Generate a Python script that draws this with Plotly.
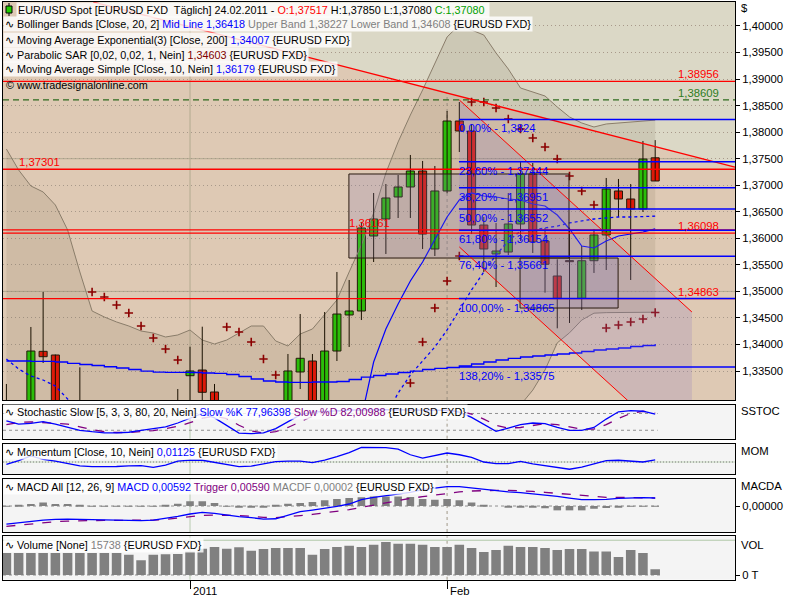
import plotly.graph_objects as go

# ---------------- data ----------------
bars = list(range(54))  # 13.12.2010 ... 24.02.2011 (trading days)
opens = [1.3240, 1.3282, 1.3265, 1.33871, 1.33802, 1.3245, 1.3230, 1.3210, 1.3190, 1.3130,
         1.3145, 1.3090, 1.3115, 1.3120, 1.3150, 1.33412, 1.33519, 1.33105, 1.3150, 1.3000,
         1.2910, 1.2950, 1.2970, 1.3110, 1.33482, 1.33689, 1.3260, 1.33877, 1.34556, 1.34631,
         1.36044, 1.36364, 1.36779, 1.36967, 1.37268, 1.35799, 1.36892, 1.38210, 1.38022, 1.36251,
         1.35705, 1.35742, 1.36270, 1.37212, 1.35950, 1.35290, 1.35580, 1.34870, 1.35578, 1.36063,
         1.36892, 1.36741, 1.36553, 1.37517]
highs = [1.33256, 1.3292, 1.3433, 1.34989, 1.3381, 1.3280, 1.3357, 1.3250, 1.3230, 1.3180,
         1.3160, 1.3140, 1.3150, 1.3180, 1.33161, 1.33958, 1.34335, 1.33256, 1.3170, 1.3030,
         1.2970, 1.2990, 1.3130, 1.33821, 1.34574, 1.33821, 1.34612, 1.35366, 1.35215, 1.36308,
         1.36854, 1.37023, 1.37193, 1.37570, 1.37457, 1.37363, 1.38399, 1.38568, 1.38154, 1.36402,
         1.36289, 1.36854, 1.37457, 1.37419, 1.36195, 1.35604, 1.36200, 1.35855, 1.36176, 1.37137,
         1.37118, 1.37023, 1.37834, 1.37850]
lows = [1.3225, 1.3230, 1.3255, 1.33651, 1.3235, 1.3200, 1.3180, 1.3170, 1.3120, 1.3100,
        1.3070, 1.3060, 1.3100, 1.3100, 1.3130, 1.3270, 1.3290, 1.3130, 1.2990, 1.2880,
        1.2880, 1.2920, 1.2960, 1.3100, 1.33161, 1.3240, 1.3240, 1.33689, 1.33953, 1.34461,
        1.35554, 1.35705, 1.36383, 1.36383, 1.35799, 1.35667, 1.36850, 1.37626, 1.36081, 1.35366,
        1.35083, 1.35686, 1.35950, 1.35724, 1.34976, 1.34305, 1.34405, 1.34650, 1.35347, 1.35403,
        1.36402, 1.35215, 1.36496, 1.37080]
closes = [1.3285, 1.3262, 1.33877, 1.3377, 1.3245, 1.3230, 1.3210, 1.3190, 1.3130, 1.3145,
          1.3090, 1.3115, 1.3120, 1.3150, 1.3285, 1.33501, 1.33099, 1.3150, 1.3000, 1.2910,
          1.2950, 1.2970, 1.3110, 1.33501, 1.33740, 1.3250, 1.33877, 1.34574, 1.34631, 1.36195,
          1.36364, 1.36760, 1.36967, 1.37268, 1.36081, 1.36892, 1.38210, 1.38022, 1.36251, 1.35799,
          1.35761, 1.36270, 1.37212, 1.35936, 1.35511, 1.34870, 1.35560, 1.35578, 1.36063, 1.36929,
          1.36741, 1.36553, 1.37494, 1.37080]

bb_upper = [1.37683, 1.37287, 1.36986, 1.36873, 1.36628, 1.36157, 1.35366, 1.34631, 1.34518, 1.34424,
            1.34348, 1.34254, 1.34216, 1.34141, 1.34179, 1.34273, 1.34084, 1.34009, 1.34084, 1.34216,
            1.34348, 1.34348, 1.34066, 1.33972, 1.34197, 1.34292, 1.34574, 1.34838, 1.35366, 1.35874,
            1.36477, 1.37231, 1.37815, 1.38323, 1.38794, 1.39303, 1.39793, 1.40019, 1.39925, 1.39830,
            1.39491, 1.39190, 1.38832, 1.38757, 1.38681, 1.38474, 1.38286, 1.38173, 1.38097, 1.38154,
            1.38173, 1.38191, 1.38210, 1.38227]
bb_mid = [1.33726, 1.33538, 1.33406, 1.33331, 1.33218, 1.32973, 1.3285, 1.3270, 1.3255, 1.3240,
          1.3225, 1.3210, 1.3200, 1.3190, 1.3185, 1.3185, 1.3180, 1.3175, 1.3165, 1.3155,
          1.3145, 1.3140, 1.3135, 1.3135, 1.3140, 1.3140, 1.3150, 1.3160, 1.3180, 1.3205,
          1.3230, 1.3265, 1.33086, 1.33425, 1.33689, 1.33953, 1.34273, 1.34650, 1.35027, 1.35366,
          1.35686, 1.35950, 1.36138, 1.36157, 1.36195, 1.36232, 1.36289, 1.36326, 1.36364, 1.36383,
          1.36402, 1.36402, 1.36411, 1.36418]
bb_lower = [1.2977, 1.2979, 1.2983, 1.2979, 1.2981, 1.2979, 1.3033, 1.3077, 1.3058, 1.3038,
            1.3015, 1.2995, 1.2978, 1.2966, 1.2952, 1.2943, 1.2952, 1.2949, 1.2922, 1.2888,
            1.2855, 1.2845, 1.2863, 1.2873, 1.2860, 1.2851, 1.2843, 1.2820, 1.2816, 1.2819,
            1.2810, 1.2807, 1.2836, 1.2849, 1.2859, 1.2855, 1.2875, 1.2928, 1.3013, 1.3090,
            1.3188, 1.3271, 1.3286, 1.3314, 1.3352, 1.3403, 1.3422, 1.3446, 1.3459, 1.3460,
            1.3460, 1.34605, 1.34607, 1.34608]
ema200 = [1.33689, 1.33689, 1.33680, 1.33680, 1.33670, 1.33645, 1.33623, 1.33604, 1.33581, 1.33557,
          1.33529, 1.33500, 1.33481, 1.33476, 1.33476, 1.33472, 1.33463, 1.33454, 1.33435, 1.33397,
          1.33350, 1.33312, 1.33293, 1.33288, 1.33288, 1.33293, 1.33293, 1.33303, 1.33340, 1.33387,
          1.33416, 1.33444, 1.33472, 1.33500, 1.33529, 1.33551, 1.33566, 1.33595, 1.33632, 1.33670,
          1.33708, 1.33740, 1.33764, 1.33783, 1.33802, 1.33821, 1.33840, 1.33868, 1.33896, 1.33915,
          1.33934, 1.33962, 1.33981, 1.34007]
sma10 = [None] * 28 + [1.3225, 1.3262, 1.3367, 1.34292, 1.34763, 1.35196, 1.35554, 1.35968, 1.36402, 1.36722,
                       1.36854, 1.36797, 1.36778, 1.36741, 1.36722, 1.36647, 1.36609, 1.36439, 1.36176, 1.35855,
                       1.35818, 1.35950, 1.36044, 1.36081, 1.36119, 1.36179]
sar = ([None] * 7 + [1.34989, 1.34895, 1.34744, 1.34593, 1.34348, 1.34122, 1.33915, 1.33708]
       + [None] * 3 + [1.34330, 1.34235, 1.34047, 1.33727, 1.33425] + [None] * 10
       + [1.33274, 1.34047, 1.34687, 1.35196, 1.35667, 1.38568, 1.38568, 1.38455, 1.38248, 1.38060,
          1.37890, 1.37720, 1.37494, 1.37174, 1.36892, 1.36628, 1.34311, 1.34367, 1.34424, 1.34480, 1.34603])

stoch_k = [54, 42, 45, 51, 42, 31, 20, 15, 11, 11, 13, 20, 25, 32, 46, 64, 80, 64, 37, 10,
           8, 11, 26, 52, 75, 85, 88, 90, 92, 93, 94, 94, 93, 92, 90, 91, 92, 85, 66, 40,
           16, 28, 40, 46, 44, 30, 20, 20, 30, 60, 86, 90, 88, 77.96398]
stoch_d = [40, 48, 50, 47, 46, 42, 32, 22, 15, 12, 12, 15, 19, 26, 34, 47, 63, 70, 62, 38,
           18, 10, 15, 30, 50, 70, 83, 88, 90, 92, 93, 94, 94, 93, 92, 91, 91, 89, 78, 60,
           38, 28, 30, 38, 44, 40, 31, 24, 24, 40, 62, 80, 88, 82.00988]
momentum = [-0.012, 0.007, 0.031, 0.014, 0.004, -0.007, -0.020, -0.024, -0.024, -0.023,
            -0.020, -0.019, -0.027, -0.016, 0.005, 0.010, 0.009, -0.003, -0.014, -0.024,
            -0.021, -0.009, 0.002, 0.004, 0.005, -0.003, 0.010, 0.027, 0.048, 0.075,
            0.075, 0.073, 0.066, 0.037, 0.020, 0.034, 0.046, 0.037, 0.024, 0.000,
            -0.008, -0.008, 0.003, -0.010, -0.019, -0.027, -0.037, -0.026, -0.009, 0.007,
            0.009, 0.003, 0.000, 0.01125]
macd = [-0.0133, -0.0123, -0.0113, -0.0104, -0.0099, -0.0096, -0.0099, -0.0101, -0.0104, -0.0106,
        -0.0108, -0.0108, -0.0104, -0.0091, -0.0076, -0.0059, -0.0047, -0.0054, -0.0069, -0.0079,
        -0.0086, -0.0096, -0.0094, -0.0069, -0.0042, -0.0030, -0.0017, -0.0002, 0.0015, 0.0047,
        0.0064, 0.0076, 0.0084, 0.0101, 0.0121, 0.0133, 0.0143, 0.0143, 0.0133, 0.0123,
        0.0113, 0.0104, 0.0099, 0.0091, 0.0084, 0.0072, 0.0059, 0.0047, 0.0047, 0.0049,
        0.0057, 0.0062, 0.0062, 0.00592]
trigger = [-0.0150, -0.0141, -0.0133, -0.0123, -0.0116, -0.0111, -0.0108, -0.0106, -0.0106, -0.0106,
           -0.0106, -0.0106, -0.0104, -0.0099, -0.0089, -0.0079, -0.0069, -0.0067, -0.0067, -0.0071,
           -0.0076, -0.0084, -0.0086, -0.0081, -0.0071, -0.0062, -0.0052, -0.0039, -0.0027, -0.0010,
           0.0007, 0.0025, 0.0039, 0.0057, 0.0069, 0.0081, 0.0094, 0.0104, 0.0111, 0.0116,
           0.0116, 0.0116, 0.0113, 0.0108, 0.0101, 0.0094, 0.0084, 0.0076, 0.0069, 0.0064,
           0.0064, 0.0064, 0.0064, 0.00590]
macdf = [0.0002, 0.0005, 0.0015, 0.0027, 0.0015, 0.0015, 0.0010, 0.0002, -0.0002, -0.0002,
         -0.0002, 0.0002, -0.0002, 0.0010, 0.0017, 0.0035, 0.0035, 0.0022, 0.0002, -0.0007,
         -0.0010, -0.0010, 0.0005, 0.0017, 0.0022, 0.0030, 0.0042, 0.0052, 0.0059, 0.0064,
         0.0071, 0.0071, 0.0071, 0.0067, 0.0052, 0.0047, 0.0052, 0.0042, 0.0027, 0.0010,
         0.0000, -0.0007, -0.0005, -0.0007, -0.0017, -0.0032, -0.0032, -0.0032, -0.0020, -0.0015,
         -0.0007, -0.0002, -0.0002, 0.00002]
volume = [61000, 61000, 60500, 61000, 60800, 61000, 60700, 61000, 60600, 61000,
          56000, 40500, 56000, 57500, 58000, 65000, 72500, 77000, 72500, 76500,
          67000, 71800, 74500, 74500, 74500, 56000, 71800, 77000, 81000, 77000,
          83500, 91000, 86500, 86500, 83500, 77000, 77000, 83500, 74500, 63500,
          69000, 81000, 77000, 77000, 74500, 69000, 71800, 71800, 65000, 65000,
          49700, 69000, 60700, 15738]

price_ticks = [1.335, 1.340, 1.345, 1.350, 1.355, 1.360, 1.365, 1.370, 1.375, 1.380, 1.385, 1.390, 1.395, 1.400]
price_tick_text = ["1,33500", "1,34000", "1,34500", "1,35000", "1,35500", "1,36000", "1,36500",
                   "1,37000", "1,37500", "1,38000", "1,38500", "1,39000", "1,39500", "1,40000"]
major_levels = [1.350, 1.375, 1.400]
date_ticks = [15, 36]
date_labels = ["2011", "Feb"]

fib_values = [1.3824, 1.37444, 1.36951, 1.36552, 1.36154, 1.35661, 1.34865, 1.33575]
fib_labels = ["0,00% - 1,3824", "23,60% - 1,37444", "38,20% - 1,36951", "50,00% - 1,36552",
              "61,80% - 1,36154", "76,40% - 1,35661", "100,00% - 1,34865", "138,20% - 1,33575"]
fib_start = 36.97
red_levels = [1.38956, 1.37301, 1.36161, 1.36098, 1.34863]
red_labels = ["1,38956", "1,37301", "1,36161", "1,36098", "1,34863"]
red_label_pos = ["right", "left", "mid", "right", "right"]
green_level = 1.38609
green_label = "1,38609"
trend_x = [7.1, 59.52]
trend_y = [1.40452, 1.37340]
chan_x = [37.0, 56.0]
chan_upper = [1.38606, 1.34612]
chan_lower = [1.35837, 1.31843]
box1 = dict(x=[27.98, 45.96], y=[1.35629, 1.37212])
box2 = dict(x=[41.96, 49.97], y=[1.34687, 1.35629])

# ---------------- layout helpers ----------------
XR = [-0.278, 59.52]
PY = [1.32954, 1.40452]
FONT = "Liberation Sans, Arial, sans-serif"
FS = 10.8

def px(x):
    return (x - 3) / 732.0

def py(y):
    return (580 - y) / 578.0

fig = go.Figure()

# Bollinger band fill
fig.add_trace(go.Scatter(x=bars, y=bb_lower, mode="lines", line=dict(color="#8a7d6a", width=1),
                         xaxis="x", yaxis="y", hoverinfo="skip"))
fig.add_trace(go.Scatter(x=bars, y=bb_upper, mode="lines", line=dict(color="#8a7d6a", width=1),
                         fill="tonexty", fillcolor="rgba(110,92,70,0.13)", xaxis="x", yaxis="y"))

# candles
wx, wy = [], []
for i in bars:
    wx += [i, i, None]
    wy += [lows[i], highs[i], None]
fig.add_trace(go.Scatter(x=wx, y=wy, mode="lines", line=dict(color="#1a1000", width=1),
                         xaxis="x", yaxis="y"))
up = [i for i in bars if closes[i] >= opens[i]]
dn = [i for i in bars if closes[i] < opens[i]]
for sel, col in ((up, "#22cc00"), (dn, "#ee1100")):
    fig.add_trace(go.Bar(x=sel, base=[min(opens[i], closes[i]) for i in sel],
                         y=[max(abs(closes[i] - opens[i]), 0.00008) for i in sel],
                         width=0.66, marker=dict(color=col, line=dict(color="#1a1000", width=1)),
                         xaxis="x", yaxis="y"))

fig.add_trace(go.Scatter(x=bars, y=bb_mid, mode="lines", line=dict(color="#0000ff", width=1.3, dash="dot"),
                         xaxis="x", yaxis="y"))
fig.add_trace(go.Scatter(x=bars, y=ema200, mode="lines", line=dict(color="#0000ff", width=1.3, shape="hv"),
                         xaxis="x", yaxis="y"))
fig.add_trace(go.Scatter(x=bars, y=sma10, mode="lines", line=dict(color="#0000ff", width=1.2),
                         xaxis="x", yaxis="y"))
fig.add_trace(go.Scatter(x=bars, y=sar, mode="markers",
                         marker=dict(symbol="cross-thin", size=6, line=dict(color="#8b0000", width=1.6)),
                         xaxis="x", yaxis="y"))

# Stochastic
fig.add_trace(go.Scatter(x=bars, y=stoch_d, mode="lines", line=dict(color="#800080", width=1.3, dash="dash"),
                         xaxis="x2", yaxis="y2"))
fig.add_trace(go.Scatter(x=bars, y=stoch_k, mode="lines", line=dict(color="#0000ff", width=1.3),
                         xaxis="x2", yaxis="y2"))
# Momentum
fig.add_trace(go.Scatter(x=bars, y=momentum, mode="lines", line=dict(color="#0000ff", width=1.3),
                         xaxis="x3", yaxis="y3"))
# MACD
fig.add_trace(go.Bar(x=bars, y=macdf, width=0.62, marker=dict(color="#808080", line=dict(width=0)),
                     xaxis="x4", yaxis="y4"))
fig.add_trace(go.Scatter(x=bars, y=trigger, mode="lines", line=dict(color="#800080", width=1.3, dash="dash"),
                         xaxis="x4", yaxis="y4"))
fig.add_trace(go.Scatter(x=bars, y=macd, mode="lines", line=dict(color="#0000ff", width=1.3),
                         xaxis="x4", yaxis="y4"))
# Volume
fig.add_trace(go.Bar(x=bars, y=volume, width=0.78, marker=dict(color="#808080", line=dict(width=0)),
                     xaxis="x5", yaxis="y5"))

# ---------------- shapes ----------------
shapes = []
shapes.append(dict(type="rect", xref="paper", yref="y domain", x0=0, x1=1, y0=0, y1=1,
                   fillcolor="#dec9b4", line=dict(width=0), layer="below"))
shapes.append(dict(type="path", xref="x", yref="y",
                   path=f"M {trend_x[0]},{trend_y[0]} L {trend_x[1]},{trend_y[1]} L {trend_x[1]},{PY[1]} L {trend_x[0]},{PY[1]} Z",
                   fillcolor="#dbd8c6", line=dict(width=0), layer="below"))
for lv in major_levels:
    shapes.append(dict(type="line", xref="paper", yref="y", x0=0, x1=1, y0=lv, y1=lv,
                       line=dict(color="#b2ab90", width=1), layer="below"))
for ax in ["y", "y2", "y3", "y4", "y5"]:
    shapes.append(dict(type="line", xref="x", yref=ax + " domain", x0=date_ticks[0], x1=date_ticks[0], y0=0, y1=1,
                       line=dict(color="#b2ab90" if ax == "y" else "#b8ccb0", width=1), layer="below"))
    shapes.append(dict(type="line", xref="x", yref=ax + " domain", x0=date_ticks[1], x1=date_ticks[1], y0=0, y1=1,
                       line=dict(color="#a09888", width=1, dash="dot"), layer="below"))
for lv in (80, 20):
    shapes.append(dict(type="line", xref="x", yref="y2", x0=XR[0], x1=53.2, y0=lv, y1=lv,
                       line=dict(color="#909090", width=1, dash="dot"), layer="below"))
shapes.append(dict(type="line", xref="paper", yref="y3", x0=0, x1=1, y0=0, y1=0,
                   line=dict(color="#c4d8bc", width=1), layer="below"))
shapes.append(dict(type="line", xref="paper", yref="y3", x0=0, x1=1, y0=0, y1=0,
                   line=dict(color="#808080", width=1, dash="1px,2px"), layer="below"))
shapes.append(dict(type="line", xref="x", yref="y4", x0=XR[0], x1=53.3, y0=0, y1=0,
                   line=dict(color="#909090", width=1, dash="dot"), layer="below"))
shapes.append(dict(type="line", xref="x", yref="y5", x0=XR[0], x1=53.5, y0=0, y1=0,
                   line=dict(color="#909090", width=1, dash="dot"), layer="below"))
shapes.append(dict(type="line", xref="paper", yref="y5", x0=0, x1=1, y0=96000, y1=96000,
                   line=dict(color="#b0c8a8", width=1), layer="below"))

shapes.append(dict(type="path", xref="x", yref="y",
                   path=f"M {chan_x[0]},{chan_upper[0]} L {chan_x[1]},{chan_upper[1]} L {chan_x[1]},{chan_lower[1]} L {chan_x[0]},{chan_lower[0]} Z",
                   fillcolor="rgba(140,120,190,0.22)", line=dict(width=0), layer="above"))
for b in (box1, box2):
    shapes.append(dict(type="rect", xref="x", yref="y", x0=b["x"][0], x1=b["x"][1], y0=b["y"][0], y1=b["y"][1],
                       fillcolor="rgba(130,115,175,0.2)", line=dict(color="#2a1a10", width=1), layer="above"))
for lv in red_levels:
    shapes.append(dict(type="line", xref="paper", yref="y", x0=0, x1=1, y0=lv, y1=lv,
                       line=dict(color="#ff0000", width=1.3), layer="above"))
shapes.append(dict(type="line", xref="paper", yref="y", x0=0, x1=1, y0=green_level, y1=green_level,
                   line=dict(color="#2e6b1e", width=1.3, dash="6px,4px"), layer="above"))
shapes.append(dict(type="line", xref="x", yref="y", x0=trend_x[0], x1=trend_x[1], y0=trend_y[0], y1=trend_y[1],
                   line=dict(color="#ff0000", width=1.3), layer="above"))
shapes.append(dict(type="line", xref="x", yref="y", x0=chan_x[0], x1=chan_x[1], y0=chan_upper[0], y1=chan_upper[1],
                   line=dict(color="#ff0000", width=1), layer="above"))
shapes.append(dict(type="line", xref="x", yref="y", x0=chan_x[0], x1=chan_x[1], y0=chan_lower[0], y1=chan_lower[1],
                   line=dict(color="#ff0000", width=1), layer="above"))
for lv in fib_values:
    shapes.append(dict(type="line", xref="x", yref="y", x0=fib_start, x1=XR[1], y0=lv, y1=lv,
                       line=dict(color="#0000ff", width=1.5), layer="above"))
shapes.append(dict(type="line", xref="paper", yref="paper", x0=px(9), x1=px(9), y0=py(3), y1=py(16),
                   line=dict(color="#000000", width=1)))
shapes.append(dict(type="rect", xref="paper", yref="paper", x0=px(6), x1=px(12), y0=py(6), y1=py(13),
                   fillcolor="#22cc00", line=dict(color="#000000", width=1)))

# ---------------- annotations ----------------
ann = []
BG = "rgba(255,255,255,0.82)"

def legend(text, xp, yp, bg=BG):
    ann.append(dict(text=text, xref="paper", yref="paper", x=px(xp), y=py(yp), xanchor="left", yanchor="middle",
                    showarrow=False, font=dict(family=FONT, size=FS, color="#000000"), bgcolor=bg, borderpad=1))

def span(t, c):
    return f'<span style="color:{c}">{t}</span>'

W = "\u223f "
legend("EUR/USD Spot [EURUSD FXD\u00a0 Täglich] 24.02.2011 - " + span("O:1,37517", "#ff0000")
       + " H:1,37850 L:1,37080 " + span("C:1,37080", "#00a000") + " ", 16, 9.5)
legend(W + "Bollinger Bands [Close, 20, 2] " + span("Mid Line 1,36418", "#0000ff")
       + span(" Upper Band 1,38227 Lower Band 1,34608", "#808080") + " {EURUSD FXD}", 3, 24.5)
legend(W + "Moving Average Exponential(3) [Close, 200] " + span("1,34007", "#0000ff") + " {EURUSD FXD}", 3, 39.5)
legend(W + "Parabolic SAR [0,02, 0,02, 1, Nein] " + span("1,34603", "#800000") + " {EURUSD FXD}", 3, 54.5)
legend(W + "Moving Average Simple [Close, 10, Nein] " + span("1,36179", "#0000ff") + " {EURUSD FXD}", 3, 69.5)
legend("© www.tradesignalonline.com", 4, 85, bg="rgba(0,0,0,0)")
legend(W + "Stochastic Slow [5, 3, 3, 80, 20, Nein] " + span("Slow %K 77,96398", "#0000ff") + " "
       + span("Slow %D 82,00988", "#800080") + " {EURUSD FXD}", 3, 412)
legend(W + "Momentum [Close, 10, Nein] " + span("0,01125", "#0000ff") + " {EURUSD FXD}", 3, 452)
legend(W + "MACD All [12, 26, 9] " + span("MACD 0,00592", "#0000ff") + " " + span("Trigger 0,00590", "#800080")
       + " " + span("MACDF 0,00002", "#808080") + " {EURUSD FXD}", 3, 487)
legend(W + "Volume [None] " + span("15738", "#808080") + " {EURUSD FXD}", 3, 545)

for t, yp in (("$", 8), ("SSTOC", 411), ("MOM", 451), ("MACDA", 486), ("VOL", 545)):
    ann.append(dict(text=t, xref="paper", yref="paper", x=px(739), y=py(yp), xanchor="left", yanchor="middle",
                    showarrow=False, font=dict(family=FONT, size=FS + 0.5, color="#000000")))
for t, xi in zip(date_labels, date_ticks):
    ann.append(dict(text=t, xref="x5", yref="paper", x=xi, y=py(591), xanchor="left", yanchor="middle",
                    xshift=1, showarrow=False, font=dict(family=FONT, size=FS + 0.5, color="#000000")))

for lv, lb in zip(fib_values, fib_labels):
    ann.append(dict(text=lb, xref="x", yref="y", x=fib_start, y=lv, xanchor="left", yanchor="top", yshift=-1,
                    xshift=-2, showarrow=False, font=dict(family=FONT, size=FS + 0.5, color="#0000ff")))
for lv, lb, pos in zip(red_levels, red_labels, red_label_pos):
    if pos == "right":
        xa, xv = "right", 58.4
    elif pos == "left":
        xa, xv = "left", 0.87
    else:
        xa, xv = "left", 27.8
    ann.append(dict(text=lb, xref="x", yref="y", x=xv, y=lv, xanchor=xa, yanchor="bottom", yshift=-1,
                    showarrow=False, font=dict(family=FONT, size=FS + 0.5, color="#ff0000")))
ann.append(dict(text=green_label, xref="x", yref="y", x=58.4, y=green_level, xanchor="right", yanchor="bottom",
                yshift=-1, showarrow=False, font=dict(family=FONT, size=FS + 0.5, color="#2e7d1e")))

# ---------------- axes ----------------
def xax(anchor, ticks=False):
    d = dict(range=XR, domain=[0, 1], anchor=anchor, showgrid=False, zeroline=False, showline=True,
             mirror=True, linecolor="#000000", linewidth=1, showticklabels=False, fixedrange=True)
    if ticks:
        d.update(tickvals=date_ticks, ticks="outside", ticklen=8, tickcolor="#000000")
    else:
        d.update(ticks="")
    return d

def yax(anchor, dom, rng, **kw):
    d = dict(range=rng, domain=dom, anchor=anchor, side="right", showgrid=False, zeroline=False,
             showline=True, mirror=True, linecolor="#000000", linewidth=1, showticklabels=False, ticks="",
             fixedrange=True, tickfont=dict(family=FONT, size=FS + 0.5, color="#000000"))
    d.update(kw)
    return d

layout = dict(
    width=800, height=600, margin=dict(l=3, r=65, t=2, b=20),
    paper_bgcolor="#ffffff", plot_bgcolor="#f4f4f4", showlegend=False, barmode="overlay",
    font=dict(family=FONT, size=FS, color="#000000"),
    xaxis=xax("y"), xaxis2=xax("y2"), xaxis3=xax("y3"), xaxis4=xax("y4"), xaxis5=xax("y5", ticks=True),
    yaxis=yax("x", [0.3114, 1.0], PY, showticklabels=True, tickvals=price_ticks, ticktext=price_tick_text,
              ticks="outside", ticklen=4, tickcolor="#000000", showgrid=True, gridcolor="#a8998a",
              griddash="1px,3px", gridwidth=1),
    yaxis2=yax("x2", [0.2445, 0.3036], [-10, 112]),
    yaxis3=yax("x3", [0.1834, 0.2358], [-0.0612, 0.0934]),
    yaxis4=yax("x4", [0.0830, 0.1753], [-0.0192, 0.0202], showticklabels=True, tickvals=[0],
               ticktext=["0,00000"], ticks="outside", ticklen=4, tickcolor="#000000"),
    yaxis5=yax("x5", [0.0005, 0.0756], [-12972, 106812], showticklabels=True, tickvals=[0],
               ticktext=["0 T"], ticks="outside", ticklen=4, tickcolor="#000000"),
    shapes=shapes, annotations=ann,
)
fig.update_layout(**layout)
fig.write_html("out.html", config={"displayModeBar": False},
               post_script="document.body.style.margin='0px';document.body.style.overflow='hidden';")
